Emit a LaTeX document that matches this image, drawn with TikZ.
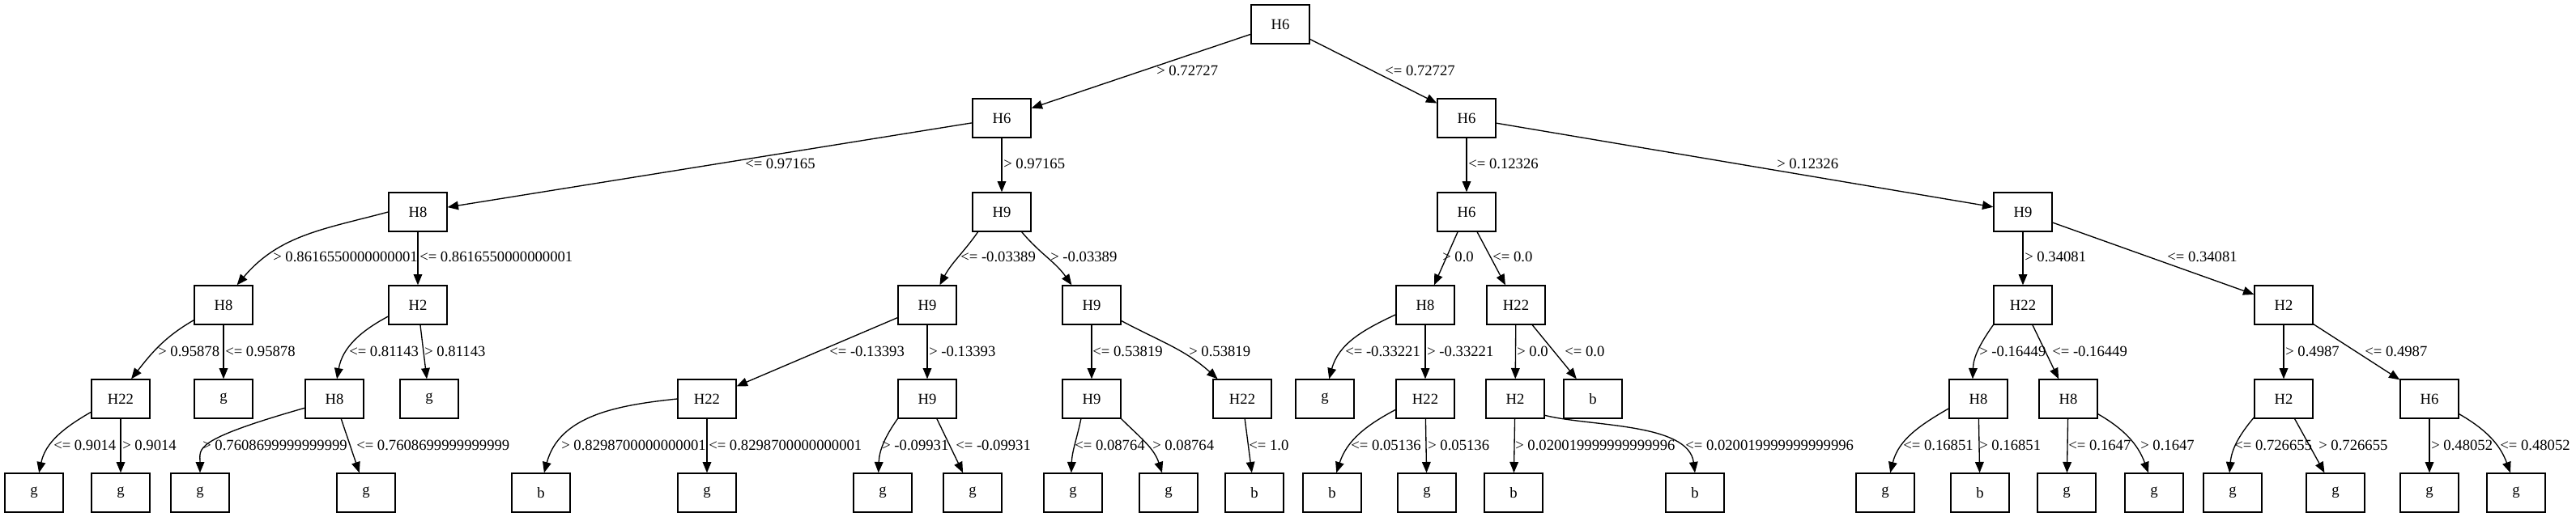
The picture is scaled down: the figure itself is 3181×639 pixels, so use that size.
\documentclass[tikz,border=0pt]{standalone}
\usepackage{fontspec}
\setmainfont{Liberation Serif}
\usepackage{tikz}
\usetikzlibrary{arrows.meta}

\begin{document}
\begin{tikzpicture}[
  x=0.75pt, y=0.75pt,
  font=\fontsize{14pt}{16pt}\selectfont,
  box/.style={draw, line width=1pt, minimum width=54pt, minimum height=36pt, inner sep=0pt},
  lbl/.style={anchor=west, inner sep=0pt},
  arr/.style={-{Triangle[length=10pt, width=8pt]}, line width=1pt}]
\useasboundingbox (0,0) rectangle (3181,-639);
% level 0-2
\node[box] (t) at (1581,-30) {H6};
\node[box] (tl) at (1237,-146) {H6};
\node[box] (tr) at (1811,-146) {H6};
\node[box] (tll) at (516,-262) {H8};
\node[box] (tlr) at (1237,-262) {H9};
\node[box] (trl) at (1811,-262) {H6};
\node[box] (trr) at (2498,-262) {H9};
% level 3
\node[box] (tlll) at (276,-377) {H8};
\node[box] (tllr) at (516,-377) {H2};
\node[box] (tlrl) at (1145,-377) {H9};
\node[box] (tlrr) at (1348,-377) {H9};
\node[box] (trll) at (1760,-377) {H8};
\node[box] (trlr) at (1872,-377) {H22};
\node[box] (trrl) at (2498,-377) {H22};
\node[box] (trrr) at (2820,-377) {H2};
% level 4
\node[box] (tllll) at (149,-493) {H22};
\node[box] (tlllr) at (276,-493) {g};
\node[box] (tllrl) at (413,-493) {H8};
\node[box] (tllrr) at (530,-493) {g};
\node[box] (tlrll) at (873,-493) {H22};
\node[box] (tlrlr) at (1145,-493) {H9};
\node[box] (tlrrl) at (1348,-493) {H9};
\node[box] (tlrrr) at (1534,-493) {H22};
\node[box] (trlll) at (1636,-493) {g};
\node[box] (trllr) at (1760,-493) {H22};
\node[box] (trlrl) at (1871,-493) {H2};
\node[box] (trlrr) at (1967,-493) {b};
\node[box] (trrll) at (2443,-493) {H8};
\node[box] (trrlr) at (2554,-493) {H8};
\node[box] (trrrl) at (2820,-493) {H2};
\node[box] (trrrr) at (3000,-493) {H6};
% level 5 (leaves)
\node[box] (tlllll) at (42,-609) {g};
\node[box] (tllllr) at (149,-609) {g};
\node[box] (tllrll) at (247,-609) {g};
\node[box] (tllrlr) at (452,-609) {g};
\node[box] (tlrlll) at (668,-609) {b};
\node[box] (tlrllr) at (873,-609) {g};
\node[box] (tlrlrl) at (1090,-609) {g};
\node[box] (tlrlrr) at (1201,-609) {g};
\node[box] (tlrrll) at (1325,-609) {g};
\node[box] (tlrrlr) at (1443,-609) {g};
\node[box] (tlrrrl) at (1549,-609) {b};
\node[box] (trllrl) at (1645,-609) {b};
\node[box] (trllrr) at (1762,-609) {g};
\node[box] (trlrll) at (1869,-609) {b};
\node[box] (trlrlr) at (2093,-609) {b};
\node[box] (trrlll) at (2328,-609) {g};
\node[box] (trrllr) at (2445,-609) {b};
\node[box] (trrlrl) at (2552,-609) {g};
\node[box] (trrlrr) at (2660,-609) {g};
\node[box] (trrrll) at (2757,-609) {g};
\node[box] (trrrlr) at (2884,-609) {g};
\node[box] (trrrrl) at (3000,-609) {g};
\node[box] (trrrrr) at (3107,-609) {g};

% splits 0-2
\draw[arr] (t)--(tl); \node[lbl] (e-tl) at (1428,-87) {> 0.72727};
\draw[arr] (t)--(tr); \node[lbl] (e-tr) at (1710,-87) {<= 0.72727};
\draw[arr] (tl)--(tll); \node[lbl] (e-tll) at (920,-202) {<= 0.97165};
\draw[arr] (tl)--(tlr); \node[lbl] (e-tlr) at (1239,-202) {> 0.97165};
\draw[arr] (tr)--(trl); \node[lbl] (e-trl) at (1813,-202) {<= 0.12326};
\draw[arr] (tr)--(trr); \node[lbl] (e-trr) at (2194,-202) {> 0.12326};
% splits 2-3
\draw[arr] (tll.west) to[out=195,in=50] (tlll.56); \node[lbl] (e-tlll) at (337,-317) {> 0.8616550000000001};
\draw[arr] (tll)--(tllr); \node[lbl] (e-tllr) at (518,-317) {<= 0.8616550000000001};
\draw[arr] (tlr.220) to[out=235,in=62] (tlrl.58); \node[lbl] (e-tlrl) at (1186,-317) {<= -0.03389};
\draw[arr] (tlr.315) to[out=-50,in=125] (tlrr.135); \node[lbl] (e-tlrr) at (1297,-317) {> -0.03389};
\draw[arr] (trl)--(trll); \node[lbl] (e-trll) at (1781,-317) {> 0.0};
\draw[arr] (trl)--(trlr); \node[lbl] (e-trlr) at (1843,-317) {<= 0.0};
\draw[arr] (trr)--(trrl); \node[lbl] (e-trrl) at (2500,-317) {> 0.34081};
\draw[arr] (trr)--(trrr); \node[lbl] (e-trrr) at (2676,-317) {<= 0.34081};
% splits 3-4
\draw[arr] (tlll.207) to[out=210,in=52] (tllll.62); \node[lbl] (e-tllll) at (195,-434) {> 0.95878};
\draw[arr] (tlll)--(tlllr); \node[lbl] (e-tlllr) at (278,-434) {<= 0.95878};
\draw[arr] (tllr.201) to[out=208,in=80] (tllrl.83); \node[lbl] (e-tllrl) at (431,-434) {<= 0.81143};
\draw[arr] (tllr)--(tllrr); \node[lbl] (e-tllrr) at (524,-434) {> 0.81143};
\draw[arr] (tlrl)--(tlrll); \node[lbl] (e-tlrll) at (1024,-434) {<= -0.13393};
\draw[arr] (tlrl)--(tlrlr); \node[lbl] (e-tlrlr) at (1147,-434) {> -0.13393};
\draw[arr] (tlrr)--(tlrrl); \node[lbl] (e-tlrrl) at (1349,-434) {<= 0.53819};
\draw[arr] (tlrr.332) to[out=-28,in=138] (tlrrr.141); \node[lbl] (e-tlrrr) at (1468,-434) {> 0.53819};
\draw[arr] (trll.198) to[out=205,in=75] (trlll.78); \node[lbl] (e-trlll) at (1661,-434) {<= -0.33221};
\draw[arr] (trll)--(trllr); \node[lbl] (e-trllr) at (1762,-434) {> -0.33221};
\draw[arr] (trlr)--(trlrl); \node[lbl] (e-trlrl) at (1873,-434) {> 0.0};
\draw[arr] (trlr)--(trlrr); \node[lbl] (e-trlrr) at (1932,-434) {<= 0.0};
\draw[arr] (trrl.south west) to[out=235,in=88] (trrll.106); \node[lbl] (e-trrll) at (2444,-434) {> -0.16449};
\draw[arr] (trrl)--(trrlr); \node[lbl] (e-trrlr) at (2534,-434) {<= -0.16449};
\draw[arr] (trrr)--(trrrl); \node[lbl] (e-trrrl) at (2822,-434) {> 0.4987};
\draw[arr] (trrr)--(trrrr); \node[lbl] (e-trrrr) at (2920,-434) {<= 0.4987};
% splits 4-5
\draw[arr] (tllll.204) to[out=210,in=78] (tlllll.76); \node[lbl] (e-tlllll) at (66,-550) {<= 0.9014};
\draw[arr] (tllll)--(tllllr); \node[lbl] (e-tllllr) at (151,-550) {> 0.9014};
\draw[arr] (tllrl.197) .. controls +(-140,-40) and +(0,30) .. (tllrll.north); \node[lbl] (e-tllrll) at (250,-550) {> 0.7608699999999999};
\draw[arr] (tllrl)--(tllrlr); \node[lbl] (e-tllrlr) at (440,-550) {<= 0.7608699999999999};
\draw[arr] (tlrll.west) to[out=186,in=75] (tlrlll.81); \node[lbl] (e-tlrlll) at (693,-550) {> 0.8298700000000001};
\draw[arr] (tlrll)--(tlrllr); \node[lbl] (e-tlrllr) at (875,-550) {<= 0.8298700000000001};
\draw[arr] (tlrlr.south west) to[out=235,in=88] (tlrlrl.102); \node[lbl] (e-tlrlrl) at (1089,-550) {> -0.09931};
\draw[arr] (tlrlr)--(tlrlrr); \node[lbl] (e-tlrlrr) at (1180,-550) {<= -0.09931};
\draw[arr] (tlrrl.242) to[out=258,in=88] (tlrrll.95); \node[lbl] (e-tlrrll) at (1327,-550) {<= 0.08764};
\draw[arr] (tlrrl.south east) to[out=-45,in=108] (tlrrlr.108); \node[lbl] (e-tlrrlr) at (1423,-550) {> 0.08764};
\draw[arr] (tlrrr)--(tlrrrl); \node[lbl] (e-tlrrrl) at (1542,-550) {<= 1.0};
\draw[arr] (trllr.200) to[out=208,in=72] (trllrl.78); \node[lbl] (e-trllrl) at (1668,-550) {<= 0.05136};
\draw[arr] (trllr)--(trllrr); \node[lbl] (e-trllrr) at (1763,-550) {> 0.05136};
\draw[arr] (trlrl)--(trlrll); \node[lbl] (e-trlrll) at (1871,-550) {> 0.020019999999999996};
\draw[arr] (trlrl.331) .. controls +(55,-14) and +(-8,62) .. (trlrlr.north); \node[lbl] (e-trlrlr) at (2081,-550) {<= 0.020019999999999996};
\draw[arr] (trrll.198) to[out=210,in=76] (trrlll.76); \node[lbl] (e-trrlll) at (2350,-550) {<= 0.16851};
\draw[arr] (trrll)--(trrllr); \node[lbl] (e-trrllr) at (2444,-550) {> 0.16851};
\draw[arr] (trrlr)--(trrlrl); \node[lbl] (e-trrlrl) at (2554,-550) {<= 0.1647};
\draw[arr] (trrlr.333) to[out=-30,in=110] (trrlrr.106); \node[lbl] (e-trrlrr) at (2643,-550) {> 0.1647};
\draw[arr] (trrrl.212) to[out=230,in=85] (trrrll.99); \node[lbl] (e-trrrll) at (2759,-550) {<= 0.726655};
\draw[arr] (trrrl)--(trrrlr); \node[lbl] (e-trrrlr) at (2863,-550) {> 0.726655};
\draw[arr] (trrrr)--(trrrrl); \node[lbl] (e-trrrrl) at (3002,-550) {> 0.48052};
\draw[arr] (trrrr.333) to[out=-30,in=110] (trrrrr.106); \node[lbl] (e-trrrrr) at (3087,-550) {<= 0.48052};
\end{tikzpicture}
\end{document}
